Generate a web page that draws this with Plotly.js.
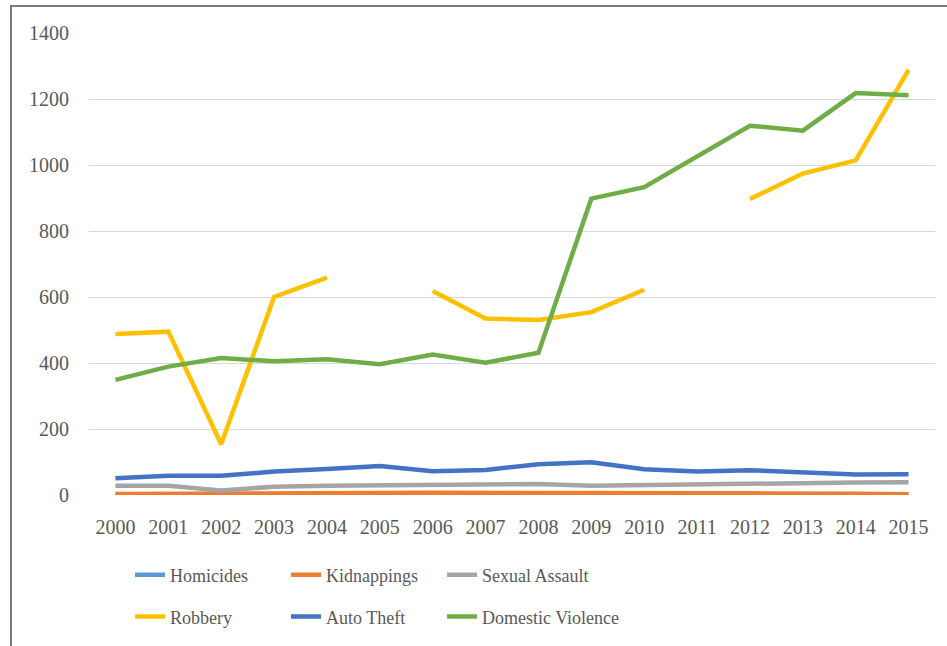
<!DOCTYPE html>
<html>
<head>
<meta charset="utf-8">
<script src="https://cdn.plot.ly/plotly-3.0.1.min.js"></script>
<style>
  html, body { margin: 0; padding: 0; background: #ffffff; overflow: hidden; }
  #frame { position: absolute; left: 10px; top: 5px; width: 1000px; height: 700px;
           border: 2px solid #7a7a7a; box-sizing: border-box; }
  #chart { position: absolute; left: 0; top: 0; width: 947px; height: 646px; }
</style>
</head>
<body>
<div id="frame"></div>
<div id="chart"></div>
<script>
const years = [2000, 2001, 2002, 2003, 2004, 2005, 2006, 2007, 2008, 2009, 2010, 2011, 2012, 2013, 2014, 2015];

const homicides        = [1, 1, 1, 2, 2, 2, 2, 2, 2, 2, 1, 1, 1, 1, 1, 1];
const kidnappings      = [3, 3, 3, 5, 5, 6, 7, 6, 6, 5, 5, 5, 5, 6, 4, 2];
const sexualAssault    = [28, 28, 14, 25, 28, 30, 32, 33, 33, 28, 30, 33, 37, 38, 38, 39];
const robbery          = [488, 495, 154, 600, 659, null, 618, 535, 530, 554, 622, null, 897, 974, 1014, 1288];
const autoTheft        = [51, 58, 58, 71, 79, 88, 72, 76, 93, 99, 78, 71, 75, 70, 62, 63];
const domesticViolence = [349, 389, 415, 405, 411, 396, 426, 401, 431, 898, 933, 1025, 1119, 1104, 1218, 1211];

const seriesNames  = ["Homicides", "Kidnappings", "Sexual Assault", "Robbery", "Auto Theft", "Domestic Violence"];
const seriesValues = [homicides, kidnappings, sexualAssault, robbery, autoTheft, domesticViolence];
const seriesColors = ["#5B9BD5", "#ED7D31", "#A5A5A5", "#FFC000", "#4472C4", "#70AD47"];

const FONT = "Liberation Serif, DejaVu Serif, serif";
const TEXT = "#595959";

const legendIds = ["legend", "legend2", "legend3", "legend4", "legend5", "legend6"];

const traces = seriesNames.map((name, i) => ({
  type: "scatter",
  mode: "lines",
  name: name,
  x: years,
  y: seriesValues[i],
  connectgaps: false,
  line: { color: seriesColors[i], width: 4.5 },
  legend: legendIds[i],
  hoverinfo: "x+y+name"
}));

// legend grid: 3 columns x 2 rows, below the plot area
const legendColX = [0.0485, 0.2329, 0.4173];
const legendRowY = [-0.171, -0.261];

const layout = {
  width: 947,
  height: 646,
  margin: { l: 89, r: 12, t: 33, b: 150 },
  paper_bgcolor: "rgba(0,0,0,0)",
  plot_bgcolor: "rgba(0,0,0,0)",
  font: { family: FONT, size: 20, color: TEXT },
  xaxis: {
    range: [1999.5, 2015.5],
    tickmode: "array",
    tickvals: years,
    ticktext: years.map(String),
    showgrid: false,
    zeroline: false,
    showline: false,
    ticks: "",
    ticklabelstandoff: 18,
    tickfont: { family: FONT, size: 20, color: TEXT },
    fixedrange: true
  },
  yaxis: {
    range: [0, 1400],
    tickmode: "linear",
    tick0: 0,
    dtick: 200,
    showgrid: true,
    gridcolor: "#d9d9d9",
    gridwidth: 1,
    zeroline: false,
    showline: false,
    ticks: "",
    ticklabelstandoff: 19,
    tickfont: { family: FONT, size: 20, color: TEXT },
    fixedrange: true
  },
  showlegend: true
};

legendIds.forEach((id, i) => {
  layout[id] = {
    orientation: "h",
    xanchor: "left",
    yanchor: "middle",
    x: legendColX[i % 3],
    y: legendRowY[Math.floor(i / 3)],
    font: { family: FONT, size: 18, color: TEXT },
    bgcolor: "rgba(0,0,0,0)",
    borderwidth: 0,
    itemwidth: 30
  };
});

Plotly.newPlot("chart", traces, layout, { displayModeBar: false, staticPlot: true });
</script>
</body>
</html>
